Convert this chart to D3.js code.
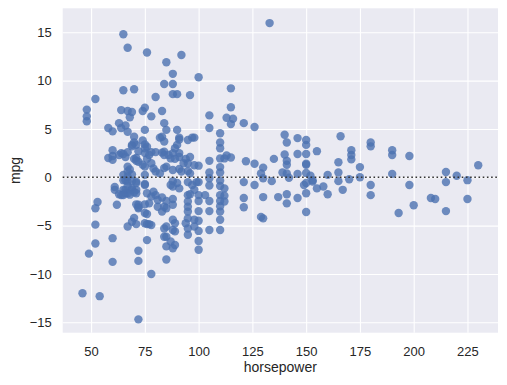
<!DOCTYPE html>
<html>
<head>
<meta charset="utf-8">
<script src="https://cdn.jsdelivr.net/npm/d3@7"></script>
<style>
  html, body { margin: 0; padding: 0; background: #ffffff; }
  svg { display: block; }
  text { font-family: "Liberation Sans", Arial, "DejaVu Sans", sans-serif; fill: #262626; }
</style>
</head>
<body>
<svg id="chart" width="507" height="385"></svg>
<script>
// ---- data ----
const xLabel = "horsepower";
const yLabel = "mpg";
const xTicks = [50, 75, 100, 125, 150, 175, 200, 225];
const yTicks = [-15, -10, -5, 0, 5, 10, 15];
const xDomain = [36.8, 239.2];
const yDomain = [-16.08, 17.48];

// [horsepower, residual mpg]
const residPoints = [
  [133,15.95],[65,14.8],[67,13.4],[76,12.9],[92,12.65],[85,11.9],[88,10.7],[100,10.35],[84,9.65],[88,9.65],
  [70,9.1],[65,9.0],[115,9.2],[88,8.6],[90,8.6],[96,8.5],[80,8.3],[52,8.1],
  [75,7.2],[115,7.25],[48,7.0],[64,6.95],[67,6.85],[69,6.75],[74,6.85],[83,6.85],[105,6.4],[78,6.3],[48,6.3],
  [68,6.2],[113,6.15],[116,6.05],[48,5.8],[63,5.6],[84,5.6],[121,5.6],[115,5.5],[66,5.35],[126,5.2],[58,5.1],
  [64,5.1],[105,5.1],[75,4.9],[85,4.9],[90,4.9],[60,4.75],[67,4.7],[110,4.55],[140,4.4],[166,4.25],[70,4.2],
  [83,4.2],[82,4.1],[91,4.1],[97,4.1],[98,4.1],[146,4.05],[91,3.9],[95,3.85],[74,3.8],[150,3.85],[84,3.7],
  [110,3.6],[141,3.6],[180,3.6],[70,3.6],[75,3.4],[69,3.35],[71,3.35],[90,3.35],[150,3.35],[180,3.2],[69,3.2],
  [76,3.15],[75,3.0],[89,3.0],[110,3.0],[60,2.8],[171,2.8],[190,2.8],[72,2.7],[155,2.7],[84,2.65],[67,2.6],
  [78,2.6],[80,2.6],[83,2.55],[75,2.5],[64,2.5],[88,2.5],[91,2.5],[146,2.4],[150,2.4],[65,2.4],[140,2.35],
  [63,2.3],[77,2.3],[86,2.3],[84,2.3],[171,2.3],[190,2.3],[113,2.25],[60,2.2],[198,2.2],[66,2.1],[91,2.1],
  [96,2.1],[115,2.05],[58,2.0],[71,2.0],[76,1.9],[70,1.9],[87,1.95],[89,1.9],[94,1.9],[110,1.95],[112,1.95],
  [135,1.9],[171,1.85],[60,1.8],[71,1.7],[105,1.7],[141,1.7],[72,1.6],[122,1.65],[165,1.55],[78,1.45],[93,1.45],
  [95,1.45],[126,1.4],[150,1.4],[74,1.3],[141,1.3],[150,1.3],[98,1.25],[230,1.25],[100,1.2],[67,1.1],[75,1.1],
  [85,1.1],[110,1.05],[175,1.05],[130,1.0],[79,0.9],[84,0.95],[91,0.85],[68,0.8],[88,0.75],[80,0.6],[67,0.6],
  [92,0.6],[95,0.65],[110,0.5],[215,0.55],[105,0.5],[139,0.5],[150,0.45],[165,0.5],[82,0.4],[96,0.4],[129,0.4],
  [141,0.4],[146,0.35],[190,0.35],[69,0.3],[65,0.25],[75,0.25],[160,0.25],[152,0.15],[220,0.15],[67,0.05],
  [175,0.0],[142,-0.05],[130,-0.1],[105,-0.1],[170,-0.2],[65,-0.3],[66,-0.3],[153,-0.3],[225,-0.3],[110,-0.35],
  [69,-0.4],[88,-0.4],[134,-0.4],[165,-0.4],[153,-0.45],[67,-0.45],[71,-0.45],[121,-0.5],[95,-0.5],[99,-0.5],
  [100,-0.5],[215,-0.5],[71,-0.6],[90,-0.6],[150,-0.6],[75,-0.7],[75,-0.8],[87,-0.8],[97,-0.8],[126,-0.8],
  [149,-0.8],[180,-0.8],[198,-0.8],[110,-0.9],[105,-0.85],[67,-0.9],[88,-0.95],[158,-0.95],[61,-1.0],[69,-1.15],
  [91,-1.15],[112,-1.15],[155,-1.15],[65,-1.3],[61,-1.3],[66,-1.3],[69,-1.3],[71,-1.3],[98,-1.3],[167,-1.3],
  [79,-1.5],[70,-1.55],[67,-1.65],[66,-1.65],[71,-1.65],[76,-1.65],[150,-1.65],[63,-1.75],[96,-1.75],[141,-1.75],
  [160,-1.75],[68,-1.8],[64,-1.85],[65,-1.85],[80,-1.85],[95,-1.85],[100,-1.85],[103,-1.85],[110,-1.85],[112,-1.9],
  [180,-1.85],[78,-2.0],[130,-2.05],[137,-2.05],[83,-2.1],[121,-2.15],[146,-2.15],[208,-2.15],[88,-2.25],[210,-2.25],
  [225,-2.25],[81,-2.35],[85,-2.45],[95,-2.5],[100,-2.45],[105,-2.45],[110,-2.45],[112,-2.5],[53,-2.55],[141,-2.7],
  [77,-2.7],[71,-2.8],[75,-2.8],[62,-2.85],[72,-2.85],[88,-2.85],[200,-2.9],[110,-3.0],[81,-3.05],[84,-3.05],
  [95,-3.05],[121,-3.1],[72,-3.1],[52,-3.2],[72,-3.2],[85,-3.2],[100,-3.5],[105,-3.5],[215,-3.5],[83,-3.55],
  [95,-3.55],[110,-3.55],[150,-3.6],[75,-3.7],[193,-3.7],[76,-3.8],[129,-4.1],[70,-4.2],[130,-4.25],[95,-4.25],
  [88,-4.4],[98,-4.4],[110,-4.4],[100,-4.5],[69,-4.6],[75,-4.75],[89,-4.75],[94,-4.75],[71,-4.85],[76,-4.85],
  [77,-4.85],[52,-4.9],[78,-4.95],[67,-5.1],[85,-5.1],[98,-5.1],[84,-5.3],[95,-5.3],[88,-5.45],[105,-5.45],
  [110,-5.45],[100,-5.55],[89,-5.6],[95,-5.95],[84,-6.15],[85,-6.15],[60,-6.3],[76,-6.5],[100,-6.6],[87,-6.65],
  [52,-6.85],[89,-7.0],[85,-7.15],[88,-7.35],[100,-7.5],[72,-7.6],[49,-7.9],[85,-8.5],[72,-8.65],[60,-8.75],
  [78,-10.0],[46,-12.0],[54,-12.3],[72,-14.7]
];

// ---- layout ----
const svg = d3.select("#chart");
const plot = { left: 62.7, right: 498, top: 8.3, bottom: 332.7 };
const x = d3.scaleLinear().domain(xDomain).range([plot.left, plot.right]);
const y = d3.scaleLinear().domain(yDomain).range([plot.bottom, plot.top]);
const font = "13px";

svg.append("rect")
  .attr("x", plot.left).attr("y", plot.top)
  .attr("width", plot.right - plot.left).attr("height", plot.bottom - plot.top)
  .attr("fill", "#eaeaf2");

// x axis + vertical grid
const gx = svg.append("g")
  .attr("transform", `translate(0,${plot.bottom})`)
  .call(d3.axisBottom(x).tickValues(xTicks).tickSize(-(plot.bottom - plot.top)).tickPadding(14).tickFormat(d3.format("d")));
gx.select(".domain").remove();
gx.selectAll(".tick line").attr("stroke", "#ffffff").attr("stroke-width", 1.1);
gx.selectAll(".tick text").style("font-size", font).attr("fill", "#262626");

// y axis + horizontal grid
const gy = svg.append("g")
  .attr("transform", `translate(${plot.left},0)`)
  .call(d3.axisLeft(y).tickValues(yTicks).tickSize(-(plot.right - plot.left)).tickPadding(11).tickFormat(d3.format("d")));
gy.select(".domain").remove();
gy.selectAll(".tick line").attr("stroke", "#ffffff").attr("stroke-width", 1.1);
gy.selectAll(".tick text").style("font-size", font).attr("fill", "#262626");

// points
svg.append("g").selectAll("circle")
  .data(residPoints)
  .join("circle")
  .attr("cx", d => x(d[0]))
  .attr("cy", d => y(d[1]))
  .attr("r", 4.2)
  .attr("fill", "#4c72b0")
  .attr("fill-opacity", 0.8);

// zero reference line (dotted)
svg.append("line")
  .attr("x1", plot.left).attr("x2", plot.right)
  .attr("y1", y(0)).attr("y2", y(0))
  .attr("stroke", "#333333")
  .attr("stroke-width", 1.6)
  .attr("stroke-dasharray", "1.6,2.6");

// axis labels
svg.append("text")
  .attr("x", (plot.left + plot.right) / 2)
  .attr("y", 372)
  .attr("text-anchor", "middle")
  .style("font-size", "14px")
  .text(xLabel);

svg.append("text")
  .attr("transform", `translate(19.5,${(plot.top + plot.bottom) / 2}) rotate(-90)`)
  .attr("text-anchor", "middle")
  .style("font-size", "14px")
  .text(yLabel);
</script>
</body>
</html>
